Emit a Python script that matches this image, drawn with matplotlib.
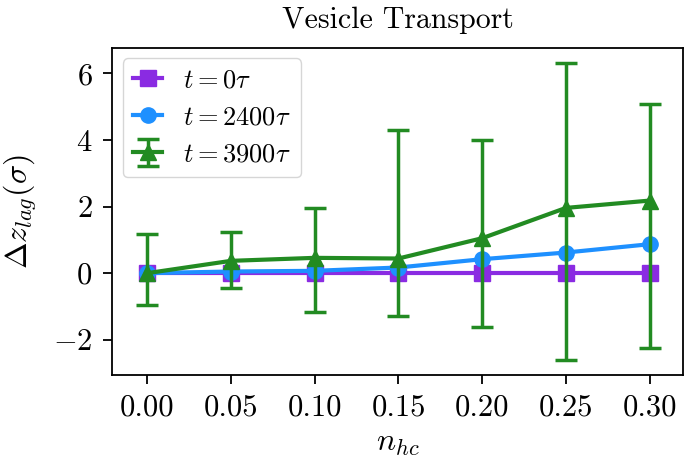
import numpy as np
import matplotlib
matplotlib.use("Agg")
import matplotlib.pyplot as plt

plt.rcParams["font.family"] = "serif"
plt.rcParams["font.serif"] = ["cmr10"]
plt.rcParams["mathtext.fontset"] = "cm"
plt.rcParams["axes.formatter.use_mathtext"] = True
plt.rcParams["font.size"] = 20

n_hc = [0.00, 0.05, 0.10, 0.15, 0.20, 0.25, 0.30]
z_t0 = [0, 0, 0, 0, 0, 0, 0]
z_t2400 = [0.0, 0.05, 0.07, 0.17, 0.42, 0.62, 0.87]
z_t3900 = [0.0, 0.37, 0.46, 0.44, 1.05, 1.96, 2.18]
err_lo = [0.95, 0.81, 1.63, 1.72, 2.67, 4.57, 4.44]
err_hi = [1.19, 0.88, 1.51, 3.87, 2.95, 4.36, 2.91]

fig = plt.figure(figsize=(7, 4.74), dpi=100)
ax = fig.add_axes([0.16, 0.209, 0.816, 0.69])

ax.plot(n_hc, z_t0, marker="s", color="blueviolet", lw=3, ms=11, label=r"$t = 0\tau$")
ax.plot(n_hc, z_t2400, marker="o", color="dodgerblue", lw=3, ms=11, label=r"$t = 2400\tau$")
ax.errorbar(n_hc, z_t3900, yerr=[err_lo, err_hi], marker="^", color="forestgreen",
            lw=3, ms=12, elinewidth=2.5, capsize=8, capthick=2.5, label=r"$t = 3900\tau$")

ax.set_xlim(-0.021, 0.32)
ax.set_xticks(n_hc)
ax.set_xticklabels(["%.2f" % v for v in n_hc])
ax.tick_params(labelsize=22, width=1.3, length=6.5, pad=7.5)
ax.set_title("Vesicle Transport", fontsize=21.5, pad=14)
ax.set_xlabel(r"$n_{hc}$", fontsize=23, labelpad=6)
ax.set_ylabel(r"$\Delta z_{lag}(\sigma)$", fontsize=23, labelpad=10)
for s in ax.spines.values():
    s.set_linewidth(1.3)
ax.legend(loc="upper left", fontsize=19, handlelength=1.1, borderaxespad=0.4)

fig.savefig("out.png", dpi=100)
